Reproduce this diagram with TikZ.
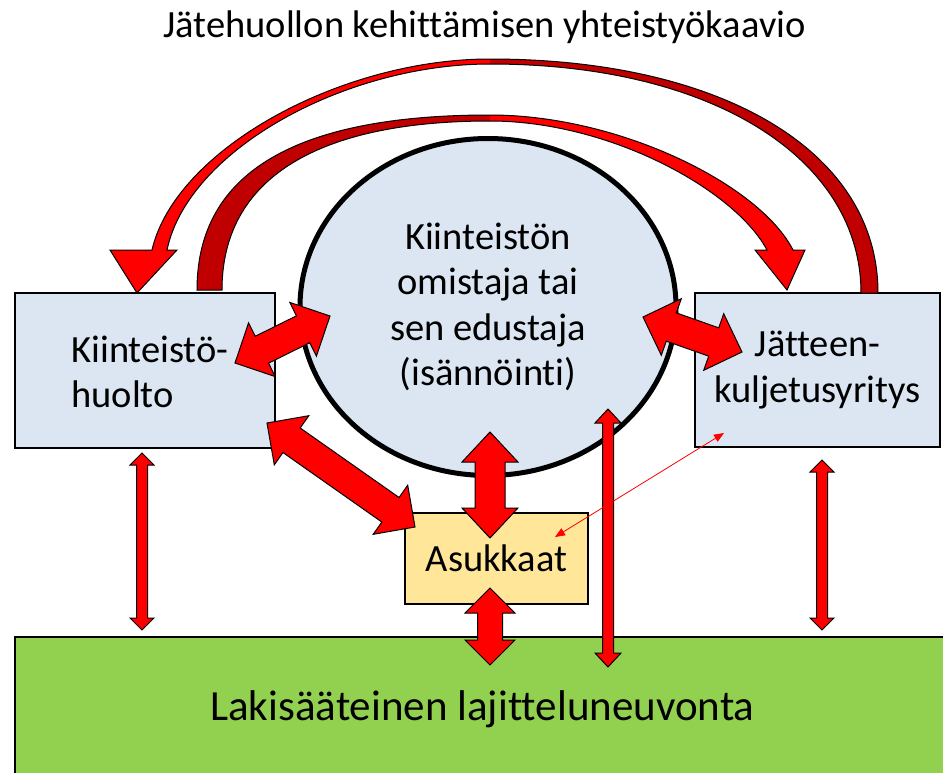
\documentclass[tikz,border=0pt]{standalone}
\usepackage{fontspec}
\setmainfont{Carlito}[Ligatures=NoCommon]
\usepackage{tikz}
\usetikzlibrary{calc,shapes.geometric,arrows.meta}

\definecolor{boxblue}{HTML}{DCE6F2}
\definecolor{boxyellow}{HTML}{FFE699}
\definecolor{boxgreen}{HTML}{92D050}
\definecolor{arrowred}{HTML}{FF0000}
\definecolor{arrowdark}{HTML}{C00000}

% double block arrow: tips #1 and #2, shaft half width #3, head half width #4, head length #5
\newcommand{\blockarrow}[5]{%
  \filldraw[blockarr] (#1)
    -- ($(#1)!#5!(#2)!#4!90:(#2)$) -- ($(#1)!#5!(#2)!#3!90:(#2)$)
    -- ($(#2)!#5!(#1)!#3!-90:(#1)$) -- ($(#2)!#5!(#1)!#4!-90:(#1)$)
    -- (#2)
    -- ($(#2)!#5!(#1)!#4!90:(#1)$) -- ($(#2)!#5!(#1)!#3!90:(#1)$)
    -- ($(#1)!#5!(#2)!#3!-90:(#2)$) -- ($(#1)!#5!(#2)!#4!-90:(#2)$)
    -- cycle;}

\begin{document}
\begin{tikzpicture}[x=1pt,y=-1pt]
\tikzstyle{every node}=[font=\fontsize{38.5}{45.5}\selectfont];
\tikzstyle{box}=[draw,line width=1.5pt,fill=boxblue,inner sep=0pt];
\tikzstyle{blockarr}=[fill=arrowred,draw=black,line width=1pt];
\tikzstyle{arc}=[draw=black,line width=1pt];
\useasboundingbox (0,0) rectangle (943,772);

\node[anchor=base] (title) at (484.5,37) {Jätehuollon kehittämisen yhteistyökaavio};

\node[box,minimum width=260pt,minimum height=155pt] (kh) at (145,370.5) {};
\node[align=left] (khtext) at (150,372) {Kiinteistö-\\huolto};
\node[box,minimum width=245pt,minimum height=154pt,align=center] (jk) at (817.5,370) {Jätteen-\\kuljetusyritys};
\node[ellipse,draw,line width=5pt,fill=boxblue,minimum width=376pt,minimum height=337pt,align=center] (own) at (488,307) {Kiinteistön\\omistaja tai\\sen edustaja\\(isännöinti)};
\node[box,fill=boxyellow,minimum width=183pt,minimum height=91pt] (as) at (496.5,558.5) {Asukkaat};
\node[box,fill=boxgreen,minimum width=935pt,minimum height=144pt,font=\fontsize{43}{50}\selectfont] (ln) at (482.5,709) {Lakisääteinen lajitteluneuvonta};

% curved arrows over the top
\fill[arrowdark] (878,293) .. controls (878,150) and (720,59) .. (490,59) -- (490,64) .. controls (715,64) and (861,160) .. (861,293) -- cycle;
\fill[arrowred] (490,59) .. controls (340,59) and (175,150) .. (152,250) -- (110,250) -- (137,293) -- (177,250) -- (167,250) .. controls (188,150) and (345,64) .. (490,64) -- cycle;
\draw[arc] (878,293) .. controls (878,150) and (720,59) .. (490,59)
  .. controls (340,59) and (175,150) .. (152,250) -- (110,250) -- (137,293) -- (177,250) -- (167,250)
  .. controls (188,150) and (345,64) .. (490,64)
  .. controls (715,64) and (861,160) .. (861,293) -- cycle;

\fill[arrowdark] (197,290) .. controls (197,170) and (300,115) .. (490,115) -- (490,121) .. controls (315,121) and (222,180) .. (222,290) -- cycle;
\fill[arrowred] (490,115) .. controls (620,115) and (760,185) .. (793,250) -- (805,250) -- (787,290) -- (755,250) -- (767,250) .. controls (735,190) and (610,121) .. (490,121) -- cycle;
\draw[arc] (197,290) .. controls (197,170) and (300,115) .. (490,115)
  .. controls (620,115) and (760,185) .. (793,250) -- (805,250) -- (787,290) -- (755,250) -- (767,250)
  .. controls (735,190) and (610,121) .. (490,121)
  .. controls (315,121) and (222,180) .. (222,290) -- cycle;

% arrow ends
\coordinate (a1) at (235,363); \coordinate (a2) at (330,316);
\coordinate (b1) at (643,317); \coordinate (b2) at (742,352);
\coordinate (c1) at (267,423); \coordinate (c2) at (415,527);
\coordinate (d1) at (490,432); \coordinate (d2) at (490,538);
\coordinate (e1) at (490,588); \coordinate (e2) at (490,665);
\coordinate (f1) at (142,453); \coordinate (f2) at (142,630);
\coordinate (g1) at (822,460); \coordinate (g2) at (822,630);
\coordinate (h1) at (608,409); \coordinate (h2) at (608,667);
\coordinate (i1) at (724,433); \coordinate (i2) at (555,537);

\blockarrow{a1}{a2}{15pt}{30pt}{30pt}
\blockarrow{b1}{b2}{15pt}{30pt}{30pt}
\blockarrow{c1}{c2}{15pt}{30pt}{30pt}
\blockarrow{d1}{d2}{15pt}{28pt}{30pt}
\blockarrow{e1}{e2}{12.5pt}{25pt}{25pt}
\blockarrow{f1}{f2}{5.5pt}{12pt}{12pt}
\blockarrow{g1}{g2}{5.5pt}{12pt}{12pt}
\blockarrow{h1}{h2}{5.5pt}{13pt}{14pt}

\draw[arrowred,line width=0.8pt,{Triangle[length=10pt,width=8pt]}-{Triangle[length=10pt,width=8pt]}] (i1) -- (i2);
\end{tikzpicture}
\end{document}
